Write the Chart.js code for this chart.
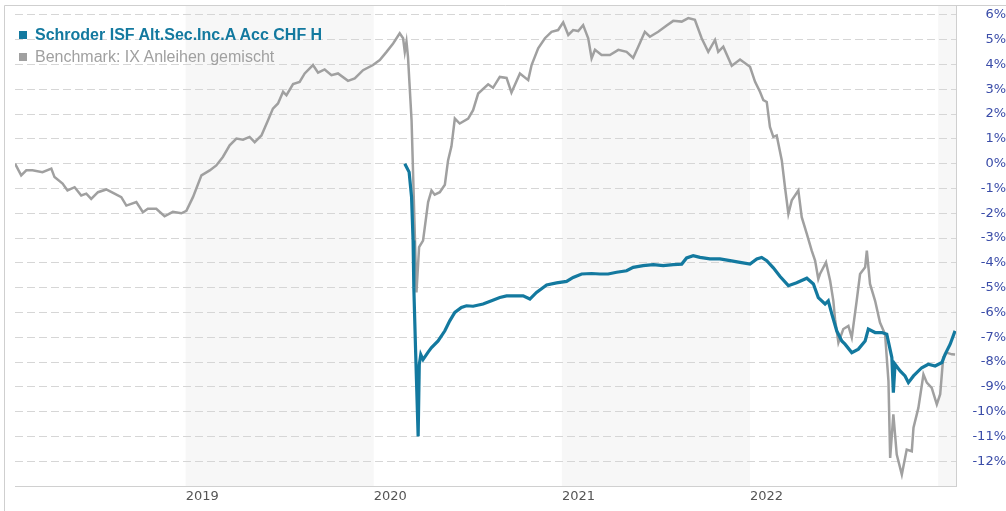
<!DOCTYPE html>
<html>
<head>
<meta charset="utf-8">
<script src="https://cdn.jsdelivr.net/npm/chart.js@4.4.1/dist/chart.umd.min.js"></script>
<style>
  body { margin: 0; background: #fff; }
  #wrap { position: relative; width: 1006px; height: 511px; }
  #legend { position: absolute; left: 19px; top: 24px; font-family: "Liberation Sans", Arial, sans-serif; font-size: 16px; line-height: 22px; }
  #legend div { white-space: nowrap; }
  #legend span.box { display: inline-block; width: 8px; height: 8px; margin-right: 8px; vertical-align: 1px; }
</style>
</head>
<body>
<div id="wrap">
  <canvas id="chart" width="1006" height="511"></canvas>
  <div id="legend">
    <div style="color:#13799f;font-weight:bold"><span class="box" style="background:#13799f"></span>Schroder ISF Alt.Sec.Inc.A Acc CHF H</div>
    <div style="color:#a0a0a0"><span class="box" style="background:#a0a0a0"></span>Benchmark: IX Anleihen gemischt</div>
  </div>
</div>
<script>
// benchmark (grey), time as decimal years, values in %
const benchYears = [
  2018.093, 2018.126, 2018.153, 2018.186, 2018.239, 2018.286, 2018.303, 2018.346, 2018.372, 2018.410,
  2018.445, 2018.472, 2018.498, 2018.534, 2018.578, 2018.622, 2018.658, 2018.685, 2018.738, 2018.773,
  2018.799, 2018.844, 2018.888, 2018.932, 2018.977, 2019.004, 2019.039, 2019.084, 2019.128, 2019.163,
  2019.198, 2019.234, 2019.270, 2019.305, 2019.340, 2019.367, 2019.403, 2019.438, 2019.464, 2019.491,
  2019.518, 2019.536, 2019.571, 2019.606, 2019.633, 2019.677, 2019.704, 2019.739, 2019.775, 2019.810,
  2019.863, 2019.899, 2019.943, 2019.996, 2020.032, 2020.068, 2020.103, 2020.138, 2020.156, 2020.165,
  2020.174, 2020.182, 2020.201, 2020.227, 2020.241, 2020.262, 2020.289, 2020.307, 2020.324, 2020.351,
  2020.378, 2020.395, 2020.413, 2020.431, 2020.457, 2020.502, 2020.528, 2020.555, 2020.608, 2020.634,
  2020.670, 2020.706, 2020.732, 2020.777, 2020.821, 2020.839, 2020.874, 2020.910, 2020.945, 2020.980,
  2021.007, 2021.034, 2021.060, 2021.087, 2021.113, 2021.140, 2021.158, 2021.176, 2021.211, 2021.255,
  2021.300, 2021.344, 2021.379, 2021.406, 2021.441, 2021.468, 2021.512, 2021.557, 2021.592, 2021.637,
  2021.672, 2021.707, 2021.743, 2021.778, 2021.814, 2021.831, 2021.858, 2021.903, 2021.947, 2022.000,
  2022.027, 2022.053, 2022.071, 2022.089, 2022.106, 2022.124, 2022.142, 2022.169, 2022.186, 2022.204,
  2022.222, 2022.257, 2022.275, 2022.302, 2022.328, 2022.346, 2022.363, 2022.372, 2022.404, 2022.426,
  2022.443, 2022.452, 2022.470, 2022.496, 2022.523, 2022.541, 2022.567, 2022.585, 2022.612, 2022.621,
  2022.638, 2022.665, 2022.691, 2022.718, 2022.736, 2022.745, 2022.762, 2022.780, 2022.807, 2022.833,
  2022.860, 2022.869, 2022.895, 2022.922, 2022.940, 2022.966, 2022.993, 2023.011, 2023.027, 2023.046,
  2023.073, 2023.090
];
const benchValues = [
  0.00, -0.47, -0.27, -0.27, -0.34, -0.20, -0.54, -0.80, -1.08, -0.95,
  -1.28, -1.21, -1.42, -1.15, -1.04, -1.21, -1.35, -1.69, -1.55, -1.96,
  -1.82, -1.82, -2.12, -1.94, -2.00, -1.90, -1.35, -0.47, -0.27, -0.07,
  0.27, 0.74, 1.01, 0.97, 1.08, 0.87, 1.14, 1.75, 2.22, 2.43,
  2.90, 2.76, 3.21, 3.30, 3.64, 3.98, 3.67, 3.80, 3.57, 3.64,
  3.34, 3.44, 3.77, 3.98, 4.18, 4.51, 4.85, 5.26, 5.06, 4.51,
  4.92, 4.31, 1.75, -5.19, -3.37, -3.10, -1.55, -1.08, -1.25, -1.15,
  -0.85, 0.13, 0.70, 1.82, 1.62, 1.82, 2.16, 2.83, 3.20, 3.06,
  3.50, 3.46, 2.87, 3.64, 3.37, 3.98, 4.65, 5.06, 5.32, 5.39,
  5.70, 5.19, 5.39, 5.35, 5.59, 5.06, 4.25, 4.59, 4.38, 4.38,
  4.59, 4.51, 4.27, 4.72, 5.32, 5.12, 5.32, 5.57, 5.76, 5.73,
  5.87, 5.80, 5.06, 4.51, 4.99, 4.51, 4.72, 3.95, 4.20, 3.91,
  3.30, 2.90, 2.56, 2.49, 1.48, 1.08, 1.14, 0.13, -0.95, -2.02,
  -1.48, -1.08, -2.16, -2.83, -3.51, -3.91, -4.65, -4.45, -3.98, -4.72,
  -5.53, -6.27, -7.22, -6.67, -6.54, -7.01, -5.53, -4.45, -4.18, -3.51,
  -4.85, -5.53, -6.41, -6.88, -8.77, -11.87, -10.11, -11.73, -12.54, -11.53,
  -11.60, -10.65, -9.85, -8.50, -8.83, -9.04, -9.71, -9.30, -7.82, -7.62,
  -7.69, -7.70
];

// fund (blue)
const fundYears = [
  2020.165, 2020.188, 2020.201, 2020.209, 2020.213, 2020.223, 2020.236, 2020.242, 2020.250, 2020.262,
  2020.289, 2020.307, 2020.342, 2020.378, 2020.404, 2020.431, 2020.466, 2020.493, 2020.528, 2020.581,
  2020.626, 2020.670, 2020.706, 2020.750, 2020.794, 2020.830, 2020.865, 2020.919, 2020.972, 2021.025,
  2021.060, 2021.105, 2021.158, 2021.202, 2021.246, 2021.291, 2021.344, 2021.379, 2021.432, 2021.486,
  2021.539, 2021.592, 2021.637, 2021.663, 2021.698, 2021.734, 2021.787, 2021.840, 2021.894, 2021.947,
  2022.000, 2022.036, 2022.062, 2022.089, 2022.124, 2022.160, 2022.204, 2022.248, 2022.302, 2022.337,
  2022.363, 2022.399, 2022.416, 2022.435, 2022.461, 2022.488, 2022.505, 2022.541, 2022.576, 2022.612,
  2022.629, 2022.665, 2022.701, 2022.727, 2022.754, 2022.762, 2022.771, 2022.798, 2022.824, 2022.842,
  2022.869, 2022.913, 2022.948, 2022.984, 2023.020, 2023.037, 2023.064, 2023.090
];
const fundValues = [
  0.00, -0.34, -1.35, -3.10, -5.00, -7.69, -11.00, -8.10, -7.70, -7.90,
  -7.60, -7.42, -7.15, -6.74, -6.34, -6.00, -5.80, -5.73, -5.75, -5.66,
  -5.53, -5.40, -5.33, -5.33, -5.33, -5.46, -5.19, -4.89, -4.81, -4.75,
  -4.59, -4.45, -4.43, -4.45, -4.45, -4.38, -4.32, -4.18, -4.11, -4.07,
  -4.11, -4.07, -4.05, -3.80, -3.71, -3.78, -3.84, -3.84, -3.91, -3.98,
  -4.05, -3.84, -3.78, -3.91, -4.20, -4.55, -4.92, -4.80, -4.62, -4.85,
  -5.40, -5.66, -5.53, -6.07, -6.74, -7.15, -7.28, -7.62, -7.48, -7.15,
  -6.67, -6.81, -6.81, -6.88, -7.82, -9.24, -8.09, -8.36, -8.56, -8.83,
  -8.56, -8.23, -8.09, -8.16, -8.02, -7.69, -7.28, -6.74
];

const yearTicks = [2019, 2020, 2021, 2022];
const shadedYears = [[2019, 2020], [2021, 2022], [2023, 2024]];
const percentTicks = [-12, -11, -10, -9, -8, -7, -6, -5, -4, -3, -2, -1, 0, 1, 2, 3, 4, 5, 6];

const fundPoints = fundYears.map((x, i) => ({ x: x, y: fundValues[i] }));
const benchPoints = benchYears.map((x, i) => ({ x: x, y: benchValues[i] }));

// grey year bands behind the grid and the frame lines
const framePlugin = {
    id: 'frame',
    beforeDraw(chart) {
        const ctx = chart.ctx;
        const a = chart.chartArea;
        const xs = chart.scales.x;
        ctx.save();
        ctx.fillStyle = '#f7f7f7';
        shadedYears.forEach(b => {
            let x1 = Math.max(xs.getPixelForValue(b[0]), a.left);
            let x2 = Math.min(xs.getPixelForValue(b[1]), a.right);
            if (x2 > x1) ctx.fillRect(x1, a.top, x2 - x1, a.bottom - a.top);
        });
        ctx.restore();
    },
    afterDraw(chart) {
        const ctx = chart.ctx;
        const a = chart.chartArea;
        ctx.save();
        ctx.strokeStyle = '#cfcfcf';
        ctx.lineWidth = 1;
        ctx.beginPath();
        ctx.moveTo(4.5, chart.height);
        ctx.lineTo(4.5, Math.round(a.top) + 0.5);
        ctx.lineTo(chart.width, Math.round(a.top) + 0.5);
        ctx.moveTo(Math.round(a.right) + 0.5, a.top);
        ctx.lineTo(Math.round(a.right) + 0.5, a.bottom);
        ctx.stroke();
        ctx.restore();
    }
};

new Chart(document.getElementById('chart'), {
    type: 'line',
    data: {
        datasets: [{
            label: 'Schroder ISF Alt.Sec.Inc.A Acc CHF H',
            data: fundPoints,
            borderColor: '#13799f',
            borderWidth: 3.2,
            pointRadius: 0,
            tension: 0
        }, {
            label: 'Benchmark: IX Anleihen gemischt',
            data: benchPoints,
            borderColor: '#a0a0a0',
            borderWidth: 2.5,
            pointRadius: 0,
            tension: 0
        }]
    },
    options: {
        responsive: false,
        animation: false,
        layout: { padding: { left: 15, top: 5, right: 0, bottom: 0 } },
        plugins: {
            legend: { display: false },
            tooltip: { enabled: false }
        },
        scales: {
            x: {
                type: 'linear',
                min: 2018.093,
                max: 2023.095,
                afterBuildTicks: s => { s.ticks = yearTicks.map(v => ({ value: v })); },
                afterFit: s => { s.height = 25; s.paddingLeft = 0; s.paddingRight = 0; },
                grid: { display: false, drawTicks: false },
                border: { display: true, color: '#d0d0d0' },
                ticks: {
                    align: 'start',
                    padding: 3,
                    maxRotation: 0,
                    color: '#555',
                    font: { family: 'DejaVu Sans', size: 13 },
                    callback: v => String(v)
                }
            },
            y: {
                position: 'right',
                min: -13,
                max: 6.4,
                afterBuildTicks: s => { s.ticks = percentTicks.map(v => ({ value: v })); },
                afterFit: s => { s.width = 50; s.paddingTop = 0; s.paddingBottom = 0; },
                grid: { color: '#d6d6d6', drawTicks: false },
                border: { display: false, dash: [8, 4] },
                ticks: {
                    crossAlign: 'far',
                    padding: 10,
                    color: '#3a4ca8',
                    font: { family: 'DejaVu Sans', size: 13 },
                    callback: v => v + '%'
                }
            }
        }
    },
    plugins: [framePlugin]
});
</script>
</body>
</html>
